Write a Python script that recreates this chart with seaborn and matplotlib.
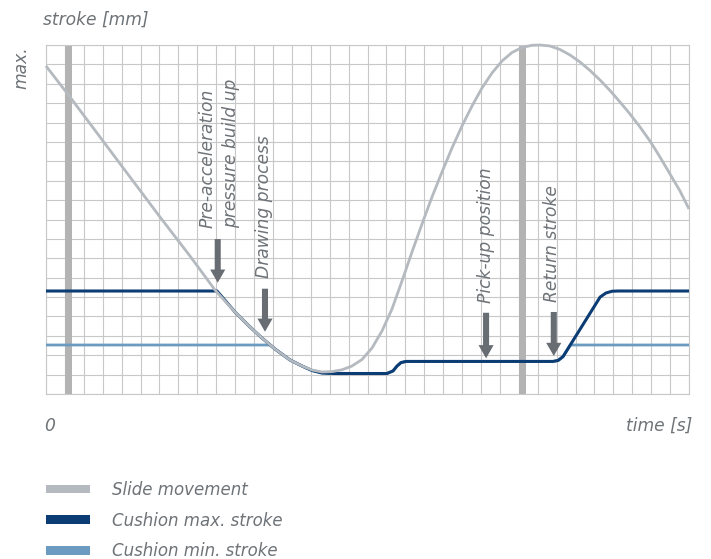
import numpy as np
import pandas as pd
import matplotlib
matplotlib.use("Agg")
import matplotlib.pyplot as plt
import seaborn as sns
from matplotlib.patches import Patch

# ---- data (grid units: x = time cells 0..34, y = stroke cells 0..18) ----
slide_x = [0.000, 1.269, 2.855, 4.442, 6.028, 7.614, 8.936, 9.994, 10.787, 11.421,
           12.109, 12.902, 13.536, 14.065, 14.594, 15.123, 15.652, 16.180, 16.709,
           17.238, 17.767, 18.295, 18.824, 19.353, 19.882, 20.410, 20.939, 21.468,
           21.997, 22.526, 23.054, 23.583, 24.112, 24.641, 25.169, 25.698, 26.121,
           26.650, 27.179, 27.707, 28.236, 28.765, 29.294, 29.822, 30.351, 30.880,
           31.409, 31.937, 32.466, 32.995, 33.524, 34.000]
slide_y = [16.917, 15.318, 13.255, 11.192, 9.129, 7.117, 5.364, 4.229, 3.456, 2.888,
           2.321, 1.754, 1.444, 1.238, 1.135, 1.155, 1.248, 1.444, 1.779,
           2.372, 3.249, 4.384, 5.828, 7.324, 8.768, 10.160, 11.450, 12.688,
           13.822, 14.854, 15.782, 16.556, 17.174, 17.613, 17.871, 17.985, 18.000,
           17.948, 17.768, 17.484, 17.123, 16.685, 16.195, 15.653, 15.060, 14.441,
           13.771, 13.048, 12.223, 11.347, 10.470, 9.541]

cmax_x = [0.000, 9.042, 9.994, 10.787, 11.421, 12.109, 12.902, 13.536, 14.065, 14.594,
          15.281, 18.030, 18.350, 18.560, 18.770, 19.040, 26.810, 27.080, 27.340,
          29.300, 29.610, 29.930, 30.250, 34.000]
cmax_y = [5.312, 5.312, 4.229, 3.456, 2.888, 2.321, 1.754, 1.444, 1.212, 1.083,
          1.057, 1.057, 1.190, 1.440, 1.620, 1.680, 1.680, 1.730, 1.930,
          5.000, 5.210, 5.300, 5.312, 5.312]

cmin_x = [0.000, 11.845, 12.109, 12.902, 13.536, 14.065, 14.594, 15.281, 18.030,
          18.350, 18.560, 18.770, 19.040, 26.810, 27.080, 27.340, 27.720, 34.000]
cmin_y = [2.527, 2.527, 2.321, 1.754, 1.444, 1.212, 1.083, 1.057, 1.057,
          1.190, 1.440, 1.620, 1.680, 1.680, 1.730, 1.930, 2.527, 2.527]

bar_x = [1.0, 25.0]
bar_w = 0.37

event_labels = ["Pre-acceleration\npressure build up", "Drawing process",
                "Pick-up position", "Return stroke"]
event_label_x = [9.14, 11.51, 23.24, 26.78]
event_label_y = [8.56, 5.97, 4.69, 4.74]
arrow_x = [9.08, 11.58, 23.27, 26.85]
arrow_top = [7.99, 5.43, 4.19, 4.23]
arrow_tip = [5.74, 3.21, 1.84, 1.96]

series_names = ["Slide movement", "Cushion max. stroke", "Cushion min. stroke"]
series_colors = ["#b4babf", "#0b3d74", "#6b9bc1"]

TEXT = "#6e7378"
GRID = "#c8c8c8"
FS = 12.3

sns.set_theme(style="white")
plt.rcParams["font.family"] = ["DejaVu Sans"]

fig = plt.figure(figsize=(7.11, 5.59), dpi=100)
ax = fig.add_axes([46 / 711, 1 - 394 / 559, 643 / 711, 349 / 559])

ax.set_xlim(0, 34)
ax.set_ylim(0, 18)
ax.set_xticks(np.arange(0, 35))
ax.set_yticks(np.arange(0, 19))
ax.grid(True, color=GRID, lw=0.8)
ax.set_axisbelow(True)
ax.tick_params(length=0, labelbottom=False, labelleft=False)
for s in ax.spines.values():
    s.set_color(GRID)
    s.set_linewidth(0.8)

for bx in bar_x:
    ax.axvspan(bx, bx + bar_w, color="#b3b3b3", lw=0, zorder=1.5)

df_min = pd.DataFrame({"x": cmin_x, "y": cmin_y})
df_max = pd.DataFrame({"x": cmax_x, "y": cmax_y})
df_slide = pd.DataFrame({"x": slide_x, "y": slide_y})

sns.lineplot(data=df_min, x="x", y="y", ax=ax, color=series_colors[2], lw=2.0,
             sort=False, estimator=None, zorder=3)
sns.lineplot(data=df_max, x="x", y="y", ax=ax, color=series_colors[1], lw=2.2,
             sort=False, estimator=None, zorder=4)
sns.lineplot(data=df_slide, x="x", y="y", ax=ax, color=series_colors[0], lw=2.0,
             sort=False, estimator=None, zorder=5)
for line in ax.lines:
    line.set_clip_on(False)
    line.set_solid_capstyle("butt")
    line.set_solid_joinstyle("round")
ax.set_xlabel("")
ax.set_ylabel("")

for xa, ya0, ya1 in zip(arrow_x, arrow_top, arrow_tip):
    ax.arrow(xa, ya0, 0, ya1 - ya0, width=0.32, head_width=0.8, head_length=0.68,
             length_includes_head=True, color="#676d72", lw=0, zorder=6)

for lab, lx, ly in zip(event_labels, event_label_x, event_label_y):
    ax.text(lx, ly, lab, rotation=90, ha="center", va="bottom", multialignment="left",
            fontsize=FS, fontstyle="italic", color=TEXT, zorder=7, linespacing=1.4)

fig.text(43 / 711, 1 - 20 / 559, "stroke [mm]", ha="left", va="center",
         fontsize=FS, fontstyle="italic", color=TEXT)
fig.text(21 / 711, 1 - 46 / 559, "max.", ha="center", va="top", rotation=90,
         fontsize=FS, fontstyle="italic", color=TEXT)
fig.text(44 / 711, 1 - 426 / 559, "0", ha="left", va="center",
         fontsize=FS, fontstyle="italic", color=TEXT)
fig.text(692 / 711, 1 - 426 / 559, "time [s]", ha="right", va="center",
         fontsize=FS, fontstyle="italic", color=TEXT)

LFS = 12
handles = [Patch(facecolor=c, edgecolor="none") for c in series_colors]
leg = fig.legend(handles, series_names, loc="upper left",
                 bbox_to_anchor=(46 / 711, 1 - 481 / 559), frameon=False,
                 borderpad=0, borderaxespad=0, handlelength=2.64, handleheight=0.42,
                 handletextpad=1.3, labelspacing=0.76, labelcolor=TEXT,
                 prop={"style": "italic", "size": LFS})

fig.savefig("out.png", dpi=100)
